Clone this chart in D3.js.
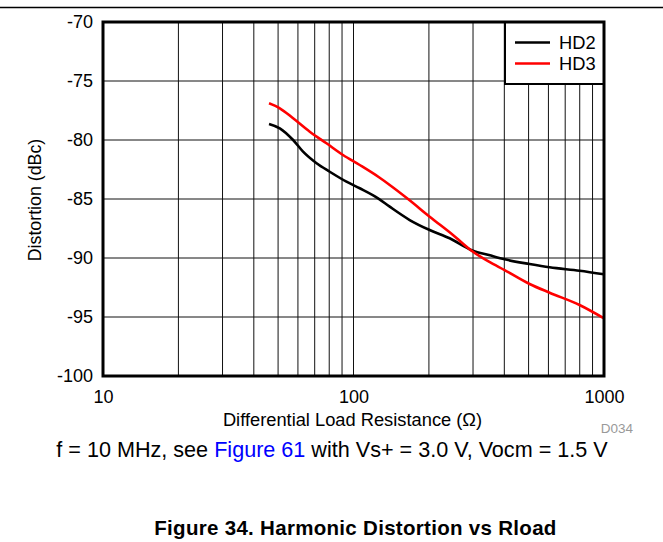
<!DOCTYPE html>
<html>
<head>
<meta charset="utf-8">
<script src="https://cdn.jsdelivr.net/npm/d3@7"></script>
<style>
  html, body { margin: 0; padding: 0; background: #fff; }
  svg { display: block; font-family: "Liberation Sans", Arial, sans-serif; }
</style>
</head>
<body>
<svg id="chart" width="663" height="542"></svg>
<script>
// ---- data ----
const resistance = [46, 50.8, 57.4, 62.9, 71.2, 80.4, 93.7, 105.9, 125.3, 139.5, 167.6, 201.4, 242, 299.8, 347.2, 401.1, 504.6, 606.5, 798.7, 1000];
const hd2 = [-78.64, -79.01, -80.0, -80.99, -81.97, -82.69, -83.53, -84.09, -84.94, -85.65, -86.78, -87.63, -88.33, -89.38, -89.75, -90.11, -90.51, -90.79, -91.08, -91.38];
const resistance3 = [46, 50.8, 57.4, 66.9, 78.0, 90.8, 105.9, 126.4, 139.5, 165.1, 201.4, 249.5, 299.8, 347.2, 401.1, 504.6, 606.5, 798.7, 1000];
const hd3 = [-76.89, -77.31, -78.16, -79.30, -80.28, -81.27, -82.12, -83.16, -83.81, -85.0, -86.50, -88.05, -89.47, -90.31, -91.02, -92.20, -92.94, -93.98, -95.11];
const xTicks = [10, 100, 1000];
const yTicks = [-100, -95, -90, -85, -80, -75, -70];
const seriesNames = ["HD2", "HD3"];
const seriesColors = ["#000000", "#ff0000"];

// ---- layout ----
const L = 103, R = 604, T = 22, B = 376;
const FONT = "'Liberation Sans', Arial, sans-serif";
const svg = d3.select("#chart");
const x = d3.scaleLog().domain([10, 1000]).range([L, R]);
const y = d3.scaleLinear().domain([-100, -70]).range([B, T]);

// top rule (page header line)
svg.append("line").attr("x1", 0).attr("x2", 663).attr("y1", 7.5).attr("y2", 7.5)
  .attr("stroke", "#000").attr("stroke-width", 1.6);

// grid
const minorX = [];
[10, 100].forEach(d => { for (let k = 2; k <= 9; k++) minorX.push(d * k); });
minorX.push(100);
svg.append("g").selectAll("line").data(minorX).join("line")
  .attr("x1", d => x(d)).attr("x2", d => x(d)).attr("y1", T).attr("y2", B)
  .attr("stroke", "#111").attr("stroke-width", 1);
svg.append("g").selectAll("line").data(yTicks.slice(1, -1)).join("line")
  .attr("x1", L).attr("x2", R).attr("y1", d => y(d)).attr("y2", d => y(d))
  .attr("stroke", "#111").attr("stroke-width", 1);

// curves
const line = d3.line().x(d => x(d[0])).y(d => y(d[1])).curve(d3.curveMonotoneX);
const s2 = resistance.map((r, i) => [r, hd2[i]]);
const s3 = resistance3.map((r, i) => [r, hd3[i]]);
[s2, s3].forEach((s, i) => {
  svg.append("path").datum(s).attr("d", line).attr("fill", "none")
    .attr("stroke", seriesColors[i]).attr("stroke-width", 2.6)
    .attr("stroke-linecap", "butt");
});

// legend box
const lg = svg.append("g");
lg.append("rect").attr("x", 505).attr("y", T).attr("width", R - 505).attr("height", 62)
  .attr("fill", "#fff").attr("stroke", "#000").attr("stroke-width", 2);
seriesNames.forEach((n, i) => {
  const yy = 42.5 + i * 21;
  lg.append("line").attr("x1", 515).attr("x2", 550).attr("y1", yy).attr("y2", yy)
    .attr("stroke", seriesColors[i]).attr("stroke-width", 2.6);
  lg.append("text").attr("x", 559).attr("y", yy).attr("dy", "0.35em")
    .attr("font-size", 18.3).attr("fill", "#000").text(n);
});

// plot border
svg.append("rect").attr("x", L).attr("y", T).attr("width", R - L).attr("height", B - T)
  .attr("fill", "none").attr("stroke", "#000").attr("stroke-width", 3);

// axes
const xAxis = d3.axisBottom(x).tickValues(xTicks).tickSize(0).tickPadding(14)
  .tickFormat(d => String(d));
const gx = svg.append("g").attr("transform", `translate(0,${B})`).call(xAxis);
gx.select(".domain").remove();
gx.selectAll("text").attr("font-size", 18).attr("fill", "#000").style("font-family", FONT);

const yAxis = d3.axisLeft(y).tickValues(yTicks).tickSize(0).tickPadding(10)
  .tickFormat(d => String(d));
const gy = svg.append("g").attr("transform", `translate(${L},0)`).call(yAxis);
gy.select(".domain").remove();
gy.selectAll("text").attr("font-size", 18).attr("fill", "#000").style("font-family", FONT);

// axis titles
svg.append("text").attr("x", 352.5).attr("y", 426).attr("text-anchor", "middle")
  .attr("font-size", 18.3).text("Differential Load Resistance (\u03A9)");
svg.append("text").attr("transform", "translate(41,200) rotate(-90)")
  .attr("text-anchor", "middle").attr("font-size", 17.8).text("Distortion (dBc)");
svg.append("text").attr("x", 633).attr("y", 433).attr("text-anchor", "end")
  .attr("font-size", 13.5).attr("fill", "#999").text("D034");

// caption
const cap = svg.append("text").attr("x", 332).attr("y", 457).attr("text-anchor", "middle")
  .attr("font-size", 21.6).attr("fill", "#000");
cap.append("tspan").text("f = 10 MHz, see ");
cap.append("tspan").attr("fill", "#0000ff").text("Figure 61");
cap.append("tspan").text(" with Vs+ = 3.0 V, Vocm = 1.5 V");

// figure title
svg.append("text").attr("x", 355.5).attr("y", 535).attr("text-anchor", "middle")
  .attr("font-size", 20.5).attr("letter-spacing", 0.3).attr("font-weight", "bold")
  .text("Figure 34. Harmonic Distortion vs Rload");
</script>
</body>
</html>
